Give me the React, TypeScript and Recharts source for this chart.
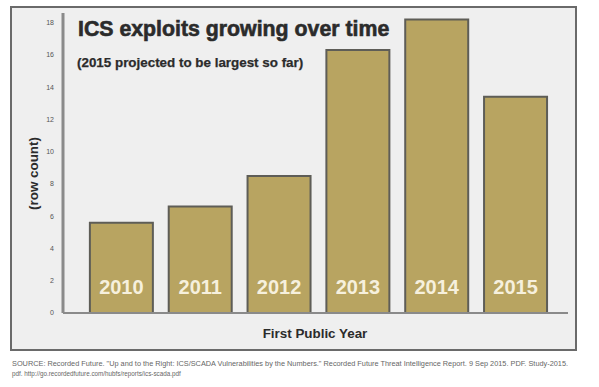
import { Bar, BarChart, LabelList, XAxis, YAxis } from "recharts";

const years = ["2010", "2011", "2012", "2013", "2014", "2015"];
const rowCounts = [5.6, 6.6, 8.5, 16.3, 18.2, 13.4];
const yTicks = [0, 2, 4, 6, 8, 10, 12, 14, 16, 18];

const data = years.map((year, i) => ({ year, count: rowCounts[i] }));

const FONT = "'Liberation Sans', Arial, Helvetica, sans-serif";

// year printed near the foot of each bar, same height for all bars
const YearLabel = (props: any) => {
  const { x, y, width, height, value } = props;
  return (
    <text
      x={x + width / 2}
      y={y + height - 19}
      textAnchor="middle"
      fontFamily={FONT}
      fontWeight="bold"
      fontSize={20}
      fill="#f6f0dd"
    >
      {value}
    </text>
  );
};

export default function App() {
  return (
    <div style={{ position: "absolute", left: 0, top: 0, width: 599, height: 387, background: "#fff", fontFamily: FONT }}>
      <div
        style={{
          position: "absolute",
          left: 10,
          top: 6,
          width: 563,
          height: 341,
          background: "#efefef",
          border: "2px solid #6a6a6a",
        }}
      />
      <div style={{ position: "absolute", left: 0, top: 0 }}>
        <BarChart width={599} height={387} data={data} margin={{ top: 13, right: 31, bottom: 44, left: 0 }} barCategoryGap="10%">
          <XAxis
            dataKey="year"
            tick={false}
            tickLine={false}
            height={30}
            padding={{ left: 19, right: 13 }}
            axisLine={{ stroke: "#8a8a8a", strokeWidth: 2 }}
          />
          <YAxis
            width={63}
            domain={[0, 18.6]}
            ticks={yTicks}
            tickLine={false}
            tickSize={0}
            tickMargin={9}
            axisLine={{ stroke: "#8a8a8a", strokeWidth: 3 }}
            tick={{ fontSize: 7, fill: "#555", fontFamily: FONT }}
          />
          <Bar dataKey="count" fill="#b8a461" stroke="#5e5d57" strokeWidth={2} isAnimationActive={false}>
            <LabelList dataKey="year" content={YearLabel} />
          </Bar>
        </BarChart>
      </div>
      <svg width={599} height={387} style={{ position: "absolute", left: 0, top: 0, pointerEvents: "none" }}>
        <text x={78} y={36} fontFamily={FONT} fontWeight="bold" fontSize={21.3} fill="#2b2b2b" stroke="#2b2b2b" strokeWidth={0.6}>
          ICS exploits growing over time
        </text>
        <text x={77} y={67} fontFamily={FONT} fontWeight="bold" fontSize={13.4} fill="#2b2b2b" stroke="#2b2b2b" strokeWidth={0.25}>
          (2015 projected to be largest so far)
        </text>
        <text
          x={38}
          y={173.5}
          transform="rotate(-90 38 173.5)"
          textAnchor="middle"
          fontFamily={FONT}
          fontWeight="bold"
          fontSize={13.4}
          fill="#2b2b2b"
        >
          (row count)
        </text>
        <text x={315} y={338} textAnchor="middle" fontFamily={FONT} fontWeight="bold" fontSize={13.4} fill="#2b2b2b">
          First Public Year
        </text>
        <text x={12} y={366} fontFamily={FONT} fontSize={6.3} fill="#666" textLength={556} lengthAdjust="spacingAndGlyphs">
          SOURCE: Recorded Future. "Up and to the Right: ICS/SCADA Vulnerabilities by the Numbers." Recorded Future Threat Intelligence Report. 9 Sep 2015. PDF. Study-2015.
        </text>
        <text x={12} y={376} fontFamily={FONT} fontSize={6.3} fill="#666">
          pdf.  http://go.recordedfuture.com/hubfs/reports/ics-scada.pdf
        </text>
      </svg>
    </div>
  );
}
